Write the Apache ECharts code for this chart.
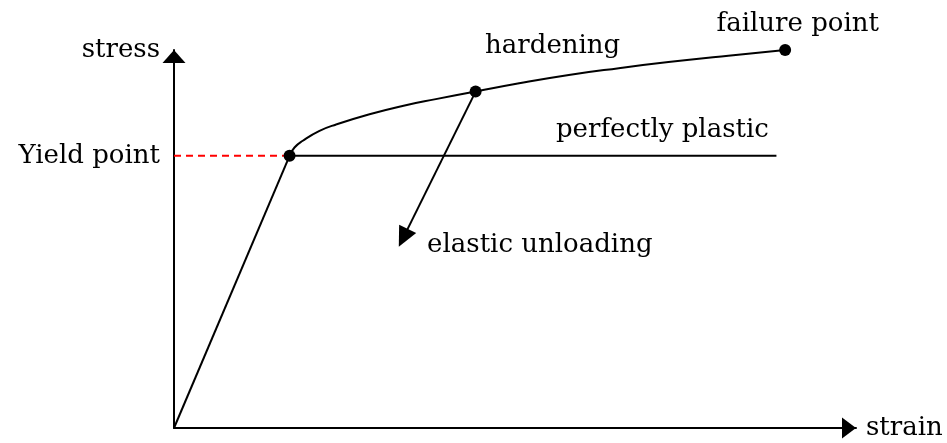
<!DOCTYPE html>
<html>
<head>
<meta charset="utf-8">
<script src="https://cdn.jsdelivr.net/npm/echarts@6/dist/echarts.min.js"></script>
<style>
html, body { margin: 0; background: #fff; }
#chart { width: 947px; height: 443px; }
</style>
</head>
<body>
<div id="chart"></div>
<script>
// stress-strain sketch, units are about 1cm
var elastic = [[0, 0], [3.05, 7.2]];
var plastic = [[3.05, 7.2], [15.9, 7.2]];
var hardening = [
	[3.05, 7.2], [3.18, 7.42], [3.40, 7.60], [3.84, 7.86], [4.28, 8.03],
	[5.16, 8.30], [6.03, 8.52], [6.91, 8.70], [7.96, 8.90], [9.11, 9.12],
	[10.42, 9.34], [11.74, 9.52], [13.05, 9.68], [14.63, 9.85], [16.13, 10.0]
];
var yieldGuide = [[0, 7.2], [3.05, 7.2]];
var unloadFrom = [7.96, 8.9];
var unloadTo = [6.05, 5.03];
var dots = [[3.05, 7.2], [7.96, 8.9], [16.13, 10.0]];
var notes = [
	[0, 7.2, 'Yield point'],
	[8.21, 10.1, 'hardening'],
	[14.32, 10.69, 'failure point'],
	[10.08, 7.88, 'perfectly plastic'],
	[6.68, 4.84, 'elastic unloading']
];

var FONT = 'DejaVu Serif';
var FSIZE = 26;
var INK = '#000';

var myChart = echarts.init(document.getElementById('chart'));

var noteData = notes.map(function (n, i) {
	var lbl = { show: true, position: 'right', distance: 0, formatter: n[2],
		fontFamily: FONT, fontSize: FSIZE, color: INK };
	if (i == 0) {
		lbl.position = 'left';
		lbl.distance = 14;
	}
	return { value: [n[0], n[1]], label: lbl };
});

myChart.setOption({
	animation: false,
	grid: { left: 174, right: 91, top: 50, bottom: 15 },
	xAxis: {
		type: 'value', min: 0, max: 18,
		name: 'strain', nameLocation: 'end', nameGap: 10,
		nameTextStyle: { fontFamily: FONT, fontSize: FSIZE, color: INK, verticalAlign: 'middle' },
		axisLine: { lineStyle: { color: INK, width: 2 }, symbol: ['none', 'triangle'], symbolSize: [21, 14], symbolOffset: [0, -7] },
		axisTick: { show: false }, axisLabel: { show: false }, splitLine: { show: false }
	},
	yAxis: {
		type: 'value', min: 0, max: 10,
		name: 'stress', nameLocation: 'end', nameGap: 0,
		nameTextStyle: { fontFamily: FONT, fontSize: FSIZE, color: INK, align: 'right', verticalAlign: 'middle', padding: [0, 14, 0, 0] },
		axisLine: { lineStyle: { color: INK, width: 2 }, symbol: ['none', 'triangle'], symbolSize: [23, 13], symbolOffset: [0, -6.5] },
		axisTick: { show: false }, axisLabel: { show: false }, splitLine: { show: false }
	},
	series: [
		{
			type: 'line', data: yieldGuide, symbol: 'none',
			lineStyle: { color: '#ff0000', width: 2, type: [7, 5] }
		},
		{
			type: 'line', data: elastic, symbol: 'none',
			lineStyle: { color: INK, width: 2 }
		},
		{
			type: 'line', data: plastic, symbol: 'none',
			lineStyle: { color: INK, width: 2 }
		},
		{
			type: 'line', data: hardening, symbol: 'none', smooth: 0.5,
			lineStyle: { color: INK, width: 2 },
			markLine: {
				silent: true, symbol: ['none', 'triangle'], symbolSize: [19, 20],
				label: { show: false },
				lineStyle: { color: INK, width: 2, type: 'solid' },
				data: [[{ coord: unloadFrom }, { coord: unloadTo }]]
			}
		},
		{
			type: 'scatter', data: dots, symbolSize: 12, z: 5,
			itemStyle: { color: INK, opacity: 1 }
		},
		{
			type: 'scatter', data: noteData, symbolSize: 0, silent: true, clip: false,
			itemStyle: { opacity: 1 }
		}
	]
});
</script>
</body>
</html>
